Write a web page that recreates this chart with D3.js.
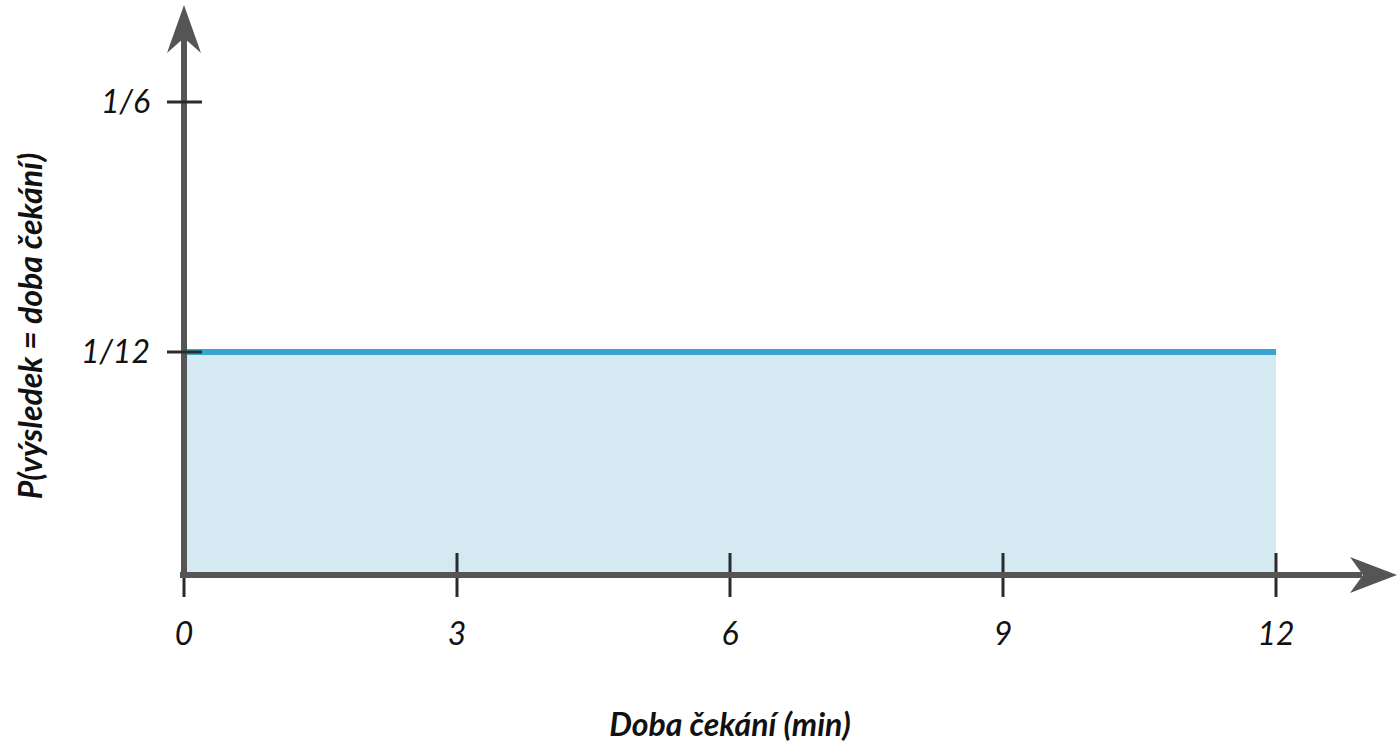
<!DOCTYPE html>
<html><head><meta charset="utf-8">
<script src="https://cdn.jsdelivr.net/npm/d3@7"></script>
<style>
html,body{margin:0;padding:0;background:#fff;}
svg{display:block;}
text{font-family:Lato,"Open Sans",sans-serif;font-style:italic;}
</style></head>
<body>
<svg id="c" width="1398" height="752"></svg>
<script>
// Data
const xTicks = [0, 3, 6, 9, 12];
const xTickLabels = ["0", "3", "6", "9", "12"];
const yTicks = [1/12, 1/6];
const yTickLabels = ["1/12", "1/6"];
const waitTime = [0, 12];
const density = [1/12, 1/12];
const xTitle = "Doba čekání (min)";
const yTitle = "P(výsledek = doba čekání)";

const svg = d3.select("#c");
const x = d3.scaleLinear().domain([0, 12]).range([184, 1276]);
const y = d3.scaleLinear().domain([0, 1/12, 1/6]).range([575, 352, 102]);

const pts = waitTime.map((t, i) => ({t, p: density[i]}));

// area
svg.append("path")
  .datum(pts)
  .attr("fill", "#d4e9f1")
  .attr("d", d3.area().x(d => x(d.t)).y0(y(0)).y1(d => y(d.p)));

// top line
svg.append("path")
  .datum(pts)
  .attr("fill", "none")
  .attr("stroke", "#36a6cf")
  .attr("stroke-width", 6)
  .attr("d", d3.line().x(d => x(d.t)).y(d => y(d.p)));

const axisColor = "#555555";
const tickColor = "#2b2b2b";

// x ticks
xTicks.forEach((v, i) => {
  svg.append("line")
    .attr("x1", x(v)).attr("x2", x(v))
    .attr("y1", i === 0 ? y(0) : y(0) - 22).attr("y2", y(0) + 22)
    .attr("stroke", tickColor).attr("stroke-width", 3);
  svg.append("text")
    .attr("x", x(v)).attr("y", y(0) + 70)
    .attr("text-anchor", "middle")
    .attr("font-size", 32).attr("fill", "#111")
    .text(xTickLabels[i]);
});

// axes lines
svg.append("line")
  .attr("x1", x(0) - 4).attr("x2", 1362)
  .attr("y1", y(0)).attr("y2", y(0))
  .attr("stroke", axisColor).attr("stroke-width", 6);
svg.append("line")
  .attr("x1", x(0)).attr("x2", x(0))
  .attr("y1", y(0) + 3).attr("y2", 38)
  .attr("stroke", axisColor).attr("stroke-width", 6);

// y ticks
yTicks.forEach((v, i) => {
  svg.append("line")
    .attr("x1", x(0) - 17).attr("x2", x(0) + 18)
    .attr("y1", y(v)).attr("y2", y(v))
    .attr("stroke", tickColor).attr("stroke-width", 3);
  svg.append("text")
    .attr("x", x(0) - 34).attr("y", y(v))
    .attr("dy", "0.35em")
    .attr("text-anchor", "end")
    .attr("font-size", 32).attr("fill", "#111")
    .text(yTickLabels[i]);
});

// arrowheads
const ax = x(0), ay = y(0);
svg.append("path")
  .attr("fill", axisColor)
  .attr("d", `M${ax},5 L${ax + 17},53 L${ax},38 L${ax - 17},53 Z`);
svg.append("path")
  .attr("fill", axisColor)
  .attr("d", `M1397,${ay} L1350,${ay - 18} L1363,${ay} L1350,${ay + 18} Z`);

// titles
svg.append("text")
  .attr("x", 730).attr("y", 736)
  .attr("text-anchor", "middle")
  .attr("font-size", 32).attr("font-weight", 700).attr("fill", "#111")
  .text(xTitle);
svg.append("text")
  .attr("transform", "translate(42,326) rotate(-90)")
  .attr("text-anchor", "middle")
  .attr("font-size", 32).attr("font-weight", 700).attr("fill", "#111")
  .text(yTitle);
</script>
</body></html>
